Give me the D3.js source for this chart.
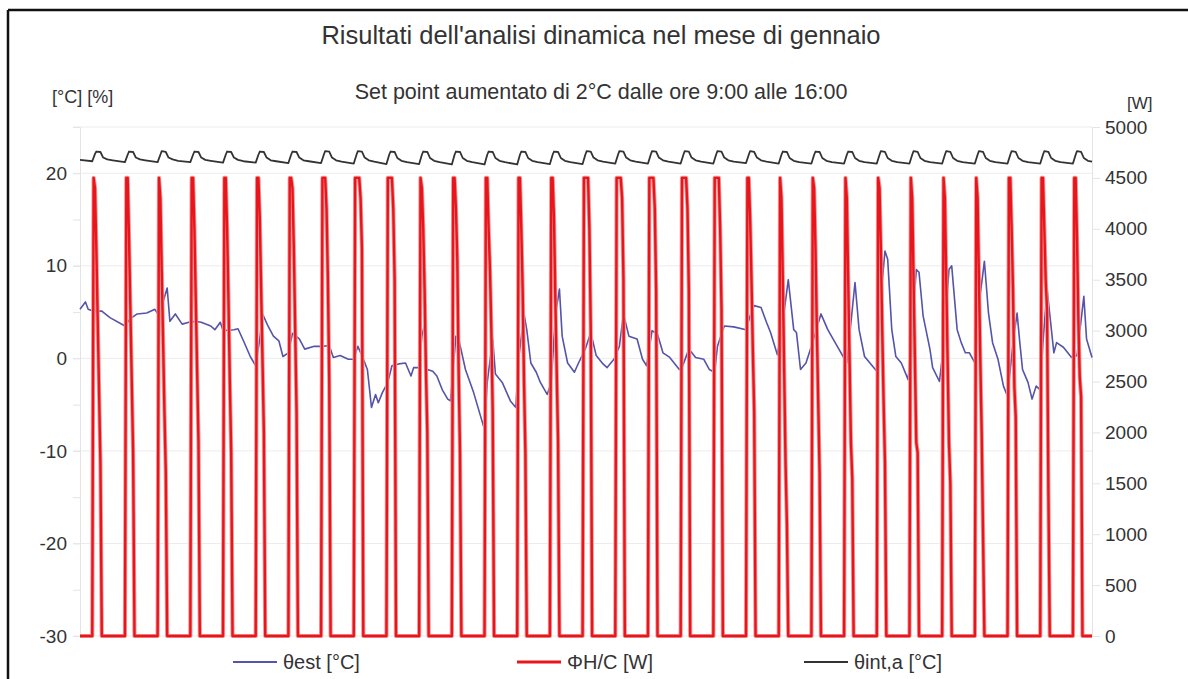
<!DOCTYPE html>
<html>
<head>
<meta charset="utf-8">
<script src="https://cdn.jsdelivr.net/npm/d3@7"></script>
<style>
  body { margin: 0; background: #fff; }
  svg { display: block; font-family: "Liberation Sans", Arial, sans-serif; }
</style>
</head>
<body>
<svg id="chart"></svg>
<script>
// ---- data ----

// outdoor temperature θest [°C] : [hour of month, value]
const estPoints = [
  [0,5.3],[4,6.1],[6,5.3],[10,5.1],[16,5.1],[22,4.4],[33,3.5],[37,4.3],[42,4.8],[49,4.9],
  [55,5.3],[58,4.6],[64,7.6],[66,4.0],[70,4.8],[75,3.7],[80,3.9],[85,4.0],[89,3.9],[96,3.5],
  [99,3.1],[103,3.9],[105,3.0],[113,3.1],[116,3.2],[120,1.9],[125,0.2],[129,-0.8],[132,2.1],[134,4.8],
  [138,3.5],[142,2.4],[146,1.9],[149,0.2],[153,0.6],[156,2.7],[161,2.1],[165,1.0],[172,1.3],[179,1.3],
  [183,1.4],[186,0.1],[191,0.3],[197,-0.1],[201,-0.1],[204,1.3],[207,0.3],[211,-1.2],[214,-5.3],[217,-3.9],
  [219,-4.8],[222,-3.7],[226,-2.6],[229,-0.8],[234,-0.6],[239,-0.5],[243,-1.9],[245,-1.0],[249,-1.0],[251,2.4],
  [253,3.7],[255,-1.2],[259,-1.4],[262,-1.9],[266,-3.4],[270,-4.4],[272,-4.6],[276,2.4],[278,2.1],[283,-1.2],
  [289,-3.7],[297,-7.7],[299,-2.6],[303,2.1],[305,-1.7],[310,-2.6],[316,-4.6],[320,-5.3],[322,-0.1],[326,4.8],
  [328,3.1],[331,-0.5],[335,-1.5],[338,-2.6],[343,-3.9],[346,-2.6],[349,4.6],[352,7.5],[354,2.4],[358,-0.5],
  [363,-1.5],[366,-0.5],[371,1.0],[375,2.8],[379,0.3],[384,-0.6],[387,-1.0],[392,-0.1],[396,1.3],[399,4.8],
  [403,2.4],[409,2.1],[413,-0.1],[416,-0.8],[420,3.0],[424,2.6],[428,0.6],[433,0.1],[440,-1.2],[442,-1.0],
  [447,1.0],[452,0.1],[458,-0.1],[462,-1.2],[466,-1.5],[468,1.3],[473,3.5],[480,3.4],[489,3.1],[493,5.1],
  [495,5.7],[500,5.5],[504,3.9],[507,2.8],[512,0.4],[516,3.9],[520,8.5],[524,3.1],[526,2.8],[529,-1.2],
  [533,-0.5],[537,1.3],[544,4.8],[549,3.1],[556,1.3],[563,-0.5],[565,2.4],[569,8.2],[572,3.1],[576,0.2],
  [585,-1.4],[588,6.7],[591,11.6],[593,10.7],[596,3.1],[599,0.2],[603,-0.5],[608,-2.3],[610,1.3],[614,9.6],
  [616,9.3],[619,4.6],[624,1.0],[626,-1.0],[631,-2.5],[634,1.3],[638,9.6],[640,10.0],[644,3.1],[647,1.7],
  [650,0.6],[653,0.6],[657,-0.5],[659,4.6],[664,10.5],[667,4.9],[670,1.7],[674,-0.1],[678,-3.0],[681,-4.1],
  [685,1.7],[688,4.9],[690,1.7],[692,-1.2],[696,-2.6],[699,-4.4],[702,-3.0],[705,-3.4],[707,1.7],[710,7.5],
  [715,0.6],[717,1.7],[722,1.2],[728,0.1],[732,0.3],[737,6.7],[739,2.1],[743,0.1]
];

// heating power ΦH/C [W] : hours of the day and one row per day (0 outside these hours)
const heatHours = [9, 10, 11, 12, 13, 14, 15, 16];
const heatProfiles = [
  [0,4500,4400,3800,3100,2400,1700,0],
  [0,4500,4500,3900,3200,2500,1800,0],
  [0,4500,4300,3600,2900,2200,1600,0],
  [0,4500,4500,4000,3300,2600,1900,0],
  [0,4500,4500,4000,3300,2500,1800,0],
  [0,4500,4500,4100,3400,2700,2000,0],
  [0,4500,4500,4400,3800,3000,2200,0],
  [0,4500,4500,4500,4200,3500,2500,0],
  [0,4500,4500,4500,4500,4300,3800,0],
  [0,4500,4500,4500,4500,4200,3500,0],
  [0,4500,4400,4000,3400,2600,2000,0],
  [0,4500,4500,4200,3700,2600,1800,0],
  [0,4500,4500,4000,3600,3000,2200,0],
  [0,4500,4500,4000,3400,2500,1800,0],
  [0,4500,4500,4100,3300,2600,1900,0],
  [0,4500,4500,4500,4500,4000,3000,0],
  [0,4500,4500,4500,4500,4300,3500,0],
  [0,4500,4500,4500,4500,4200,3400,0],
  [0,4500,4500,4500,4500,4200,3400,0],
  [0,4500,4500,4500,4500,4000,3200,0],
  [0,4500,4500,4100,3500,2800,2200,0],
  [0,4500,4300,3500,2600,1700,1100,0],
  [0,4500,4400,3800,3000,2300,1600,0],
  [0,4500,4300,3500,2700,1900,1550,0],
  [0,4500,4400,3800,3000,2300,1700,0],
  [0,4500,4300,3500,2700,1900,1800,0],
  [0,4500,4300,3500,2700,1900,1500,0],
  [0,4500,4300,3500,2700,2000,1000,0],
  [0,4500,4500,4000,3400,2450,2150,0],
  [0,4500,4500,4000,3500,3200,1400,0],
  [0,4500,4500,3900,3100,2540,2350,0]
];

// indoor air temperature θint,a [°C] : hours of the day and one row per day
const intHours = [0, 9, 11, 12, 15, 17, 20];
const intRows = [
  [21.45,21.3,22.1,22.35,22.3,21.7,21.5],
  [21.4,21.2,22.0,22.35,22.3,21.7,21.5],
  [21.4,21.2,22.0,22.4,22.3,21.7,21.5],
  [21.35,21.2,22.0,22.35,22.3,21.7,21.45],
  [21.35,21.15,22.0,22.35,22.3,21.7,21.45],
  [21.3,21.15,22.0,22.35,22.3,21.7,21.4],
  [21.3,21.1,22.0,22.35,22.3,21.7,21.4],
  [21.3,21.1,22.0,22.4,22.35,21.7,21.4],
  [21.25,21.05,22.0,22.4,22.35,21.7,21.4],
  [21.25,21.0,22.0,22.35,22.3,21.65,21.35],
  [21.2,21.0,22.0,22.35,22.3,21.65,21.35],
  [21.2,20.95,22.0,22.35,22.3,21.65,21.35],
  [21.2,20.95,22.0,22.35,22.3,21.65,21.35],
  [21.2,20.95,22.0,22.35,22.3,21.65,21.35],
  [21.2,21.0,22.0,22.35,22.3,21.65,21.35],
  [21.2,21.0,22.0,22.4,22.35,21.7,21.4],
  [21.25,21.05,22.0,22.4,22.35,21.7,21.4],
  [21.25,21.05,22.0,22.4,22.35,21.7,21.4],
  [21.25,21.05,22.0,22.4,22.35,21.7,21.4],
  [21.25,21.05,22.0,22.4,22.35,21.7,21.4],
  [21.25,21.1,22.0,22.4,22.3,21.7,21.4],
  [21.25,21.05,22.0,22.35,22.3,21.65,21.35],
  [21.2,21.05,22.0,22.35,22.3,21.65,21.35],
  [21.2,21.05,22.0,22.35,22.3,21.65,21.35],
  [21.2,21.05,22.0,22.4,22.3,21.65,21.35],
  [21.2,21.05,22.0,22.4,22.3,21.65,21.35],
  [21.2,21.05,22.0,22.4,22.3,21.65,21.35],
  [21.2,21.05,22.0,22.4,22.3,21.65,21.35],
  [21.2,21.05,22.0,22.4,22.3,21.65,21.35],
  [21.2,21.05,22.0,22.4,22.3,21.65,21.35],
  [21.2,21.05,22.0,22.4,22.3,21.65,21.35]
];
const intLast = [743, 21.25];

const leftTicks = [-30, -20, -10, 0, 10, 20];
const leftMinorTicks = [-25, -15, -5, 5, 15];
const rightTicks = [0, 500, 1000, 1500, 2000, 2500, 3000, 3500, 4000, 4500, 5000];
const seriesNames = ["θest [°C]", "ΦH/C [W]", "θint,a [°C]"];
const seriesColors = ["#5454aa", "#e8161c", "#333333"];

// ---- layout ----
const width = 1188;
const height = 679;
const plot = {left: 80, right: 1092, top: 127, bottom: 636};

const svg = d3.select('#chart')
    .attr('width', width)
    .attr('height', height);

// frame (left and top edge of the picture)
svg.append('line').attr('x1', 8).attr('y1', 10).attr('x2', width).attr('y2', 10)
    .attr('stroke', '#111').attr('stroke-width', 2.5);
svg.append('line').attr('x1', 8).attr('y1', 10).attr('x2', 8).attr('y2', height)
    .attr('stroke', '#111').attr('stroke-width', 2.5);

// scales
const x = d3.scaleLinear().domain([0, 743]).range([plot.left, plot.right]);
const yL = d3.scaleLinear().domain([-30, 25]).range([plot.bottom, plot.top]);
const yR = d3.scaleLinear().domain([0, 5000]).range([plot.bottom, plot.top]);

// grid lines
svg.append('g')
    .selectAll('line')
    .data(leftTicks.concat([25]))
    .enter().append('line')
    .attr('x1', plot.left - 7).attr('x2', plot.right)
    .attr('y1', d => yL(d)).attr('y2', d => yL(d))
    .attr('stroke', '#ececec').attr('stroke-width', 1);

// left axis
svg.append('g')
    .attr('transform', 'translate(' + plot.left + ',0)')
    .call(d3.axisLeft(yL).tickValues(leftTicks).tickSize(7).tickPadding(6)
      .tickFormat(d => String(d)));
svg.append('g')
    .attr('transform', 'translate(' + plot.left + ',0)')
    .call(d3.axisLeft(yL).tickValues(leftMinorTicks).tickSize(7).tickFormat(''))
    .call(g => g.select('.domain').remove());

// right axis
svg.append('g')
    .attr('transform', 'translate(' + plot.right + ',0)')
    .call(d3.axisRight(yR).tickValues(rightTicks).tickSize(8).tickPadding(5)
      .tickFormat(d => String(d)));

svg.selectAll('.domain').attr('stroke', '#e4e4e4');
svg.selectAll('.tick line').attr('stroke', '#e4e4e4');
svg.selectAll('.tick text')
    .attr('fill', '#333')
    .style('font-size', '19px')
    .style('font-family', '"Liberation Sans", Arial, sans-serif');

// ---- series ----
const heatPoints = [[0, 0]];
heatProfiles.forEach(function(row, d) {
  row.forEach(function(w, i) { heatPoints.push([d * 24 + heatHours[i], w]); });
});
heatPoints.push([743, 0]);

const intPoints = [];
intRows.forEach(function(row, d) {
  row.forEach(function(v, i) { intPoints.push([d * 24 + intHours[i], v]); });
});
intPoints.push(intLast);

const lineL = d3.line().x(d => x(d[0])).y(d => yL(d[1]));
const lineR = d3.line().x(d => x(d[0])).y(d => yR(d[1]));

svg.append('path')
    .attr('d', lineL(estPoints))
    .attr('fill', 'none')
    .attr('stroke', seriesColors[0])
    .attr('stroke-width', 1.6)
    .attr('stroke-linejoin', 'round');

svg.append('path')
    .attr('d', lineR(heatPoints))
    .attr('fill', 'none')
    .attr('stroke', '#f39a9a')
    .attr('stroke-width', 4.2)
    .attr('stroke-linejoin', 'round');
svg.append('path')
    .attr('d', lineR(heatPoints))
    .attr('fill', 'none')
    .attr('stroke', seriesColors[1])
    .attr('stroke-width', 2.4)
    .attr('stroke-linejoin', 'round');

svg.append('path')
    .attr('d', lineL(intPoints))
    .attr('fill', 'none')
    .attr('stroke', seriesColors[2])
    .attr('stroke-width', 1.8)
    .attr('stroke-linejoin', 'round');

// ---- titles ----
svg.append('text')
    .attr('x', 601).attr('y', 44)
    .attr('text-anchor', 'middle')
    .attr('fill', '#333')
    .style('font-size', '25.5px')
    .text("Risultati dell'analisi dinamica nel mese di gennaio");

svg.append('text')
    .attr('x', 601).attr('y', 99)
    .attr('text-anchor', 'middle')
    .attr('fill', '#333')
    .style('font-size', '21.5px')
    .text('Set point aumentato di 2°C dalle ore 9:00 alle 16:00');

svg.append('text')
    .attr('x', 52).attr('y', 103)
    .attr('fill', '#333')
    .style('font-size', '18px')
    .text('[°C] [%]');

svg.append('text')
    .attr('x', 1127).attr('y', 109)
    .attr('fill', '#333')
    .style('font-size', '17px')
    .text('[W]');

// ---- legend ----
const legendX = [233, 517, 804];
const legend = svg.append('g')
    .selectAll('g')
    .data(seriesNames)
    .enter().append('g')
    .attr('transform', (d, i) => 'translate(' + legendX[i] + ',662)');
legend.append('line')
    .attr('x1', 0).attr('x2', 44)
    .attr('stroke', (d, i) => seriesColors[i])
    .attr('stroke-width', (d, i) => i === 1 ? 3 : 2);
legend.append('text')
    .attr('x', 50).attr('y', 7)
    .attr('fill', '#333')
    .style('font-size', '20px')
    .text(d => d);
</script>
</body>
</html>
